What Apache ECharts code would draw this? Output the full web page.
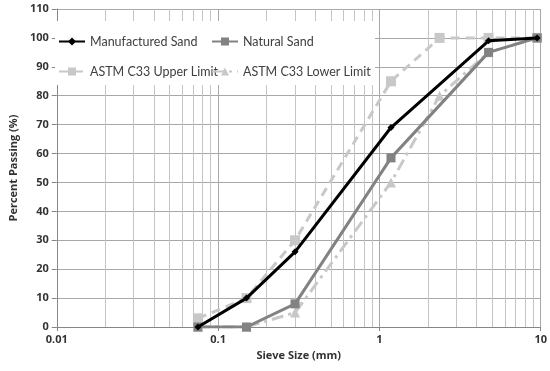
<!DOCTYPE html>
<html><head><meta charset="utf-8">
<script src="https://cdn.jsdelivr.net/npm/echarts@6/dist/echarts.min.js"></script>
<style>html,body{margin:0;padding:0;background:#fff}#c{width:550px;height:371px}</style>
</head><body><div id="c"></div>
<script>
var manufSizes = [0.075, 0.15, 0.3, 1.18, 4.75, 9.5];
var manufValues = [0, 10, 26, 69, 99, 100];
var naturalSizes = [0.075, 0.15, 0.3, 1.18, 4.75, 9.5];
var naturalValues = [0, 0, 8, 58.5, 95, 100];
var upperSizes = [0.075, 0.15, 0.3, 1.18, 2.36, 4.75, 9.5];
var upperValues = [3, 10, 30, 85, 100, 100, 100];
var lowerSizes = [0.075, 0.15, 0.3, 1.18, 2.36, 4.75, 9.5];
var lowerValues = [0, 0, 5, 50, 80, 95, 100];
var minorGridX = [0.02,0.03,0.04,0.05,0.06,0.07,0.08,0.09,0.2,0.3,0.4,0.5,0.6,0.7,0.8,0.9,2,3,4,5,6,7,8,9];
var xTickLabels = ['0.01', '0.1', '1', '10'];
var seriesNames = ['Manufactured Sand','Natural Sand','ASTM C33 Upper Limit','ASTM C33 Lower Limit'];

function pairs(xs, ys){ return xs.map(function(x,i){return [x, ys[i]];}); }
var AXFONT = '"Open Sans", sans-serif';
var LGFONT = 'Lato, "Open Sans", sans-serif';
var chart = echarts.init(document.getElementById('c'), null, {renderer:'canvas'});
chart.setOption({
  animation: false,
  backgroundColor: '#fff',
  grid: {left: 47, right: 9, top: 9, bottom: 44},
  xAxis: {
    type: 'log', logBase: 10, min: 0.01, max: 10,
    name: 'Sieve Size (mm)', nameLocation: 'middle', nameGap: 22,
    nameTextStyle: {fontFamily: AXFONT, fontWeight: 'bold', fontSize: 11, color: '#333'},
    axisLine: {lineStyle: {color: '#868686', width: 1}},
    axisTick: {show: true, length: 4, lineStyle: {color: '#868686'}},
    axisLabel: {fontFamily: AXFONT, fontWeight: 'bold', fontSize: 11, color: '#333', margin: 7,
      formatter: function(v){ var k = Math.round(Math.log10(v)) + 2; return xTickLabels[k] || ''; }},
    splitLine: {show: true, lineStyle: {color: '#a8a8a8', width: 1}}
  },
  yAxis: {
    type: 'value', min: 0, max: 110, interval: 10,
    name: 'Percent Passing (%)', nameLocation: 'middle', nameGap: 32, nameRotate: 90,
    nameTextStyle: {fontFamily: AXFONT, fontWeight: 'bold', fontSize: 11, color: '#333'},
    axisLine: {show: true, lineStyle: {color: '#868686', width: 1}},
    axisTick: {show: true, length: 5, lineStyle: {color: '#868686'}},
    axisLabel: {fontFamily: AXFONT, fontWeight: 'bold', fontSize: 11, color: '#333', margin: 8},
    splitLine: {show: true, lineStyle: {color: '#a8a8a8', width: 1}}
  },
  graphic: {z: 3, elements: [{type: 'rect', left: 55, top: 21, shape: {width: 320, height: 64}, style: {fill: '#fff'}, z: 3, silent: true}]},
  legend: [
    {data: [seriesNames[0], seriesNames[2]], orient: 'vertical', left: 53, top: 30, itemGap: 17, itemWidth: 26, itemHeight: 10,
     textStyle: {fontFamily: LGFONT, fontSize: 12.5, color: '#404040'}, z: 5},
    {data: [seriesNames[1], seriesNames[3]], orient: 'vertical', left: 206, top: 30, itemGap: 17, itemWidth: 26, itemHeight: 10,
     textStyle: {fontFamily: LGFONT, fontSize: 12.5, color: '#404040'}, z: 5}
  ],
  series: [
    {name: 'grid-minor', type: 'line', data: [], silent: true, z: 0,
     markLine: {silent: true, symbol: 'none', label: {show: false}, z: 0,
       lineStyle: {color: '#c4c4c4', width: 1, type: 'solid'},
       data: minorGridX.map(function(v){return {xAxis: v};})}},
    {name: seriesNames[2], type: 'line', data: pairs(upperSizes, upperValues), symbol: 'rect', symbolSize: 10,
     lineStyle: {color: '#c8c8c8', width: 3, type: [9,6]}, itemStyle: {color: '#c8c8c8'}, z: 2},
    {name: seriesNames[3], type: 'line', data: pairs(lowerSizes, lowerValues), symbol: 'triangle', symbolSize: 10,
     lineStyle: {color: '#c8c8c8', width: 3, type: [12,5,3,5]}, itemStyle: {color: '#c8c8c8'}, z: 2},
    {name: seriesNames[1], type: 'line', data: pairs(naturalSizes, naturalValues), symbol: 'rect', symbolSize: 9,
     lineStyle: {color: '#828282', width: 3}, itemStyle: {color: '#828282'}, z: 3},
    {name: seriesNames[0], type: 'line', data: pairs(manufSizes, manufValues), symbol: 'diamond', symbolSize: 7,
     lineStyle: {color: '#000', width: 3}, itemStyle: {color: '#000'}, z: 4}
  ]
});
</script></body></html>
